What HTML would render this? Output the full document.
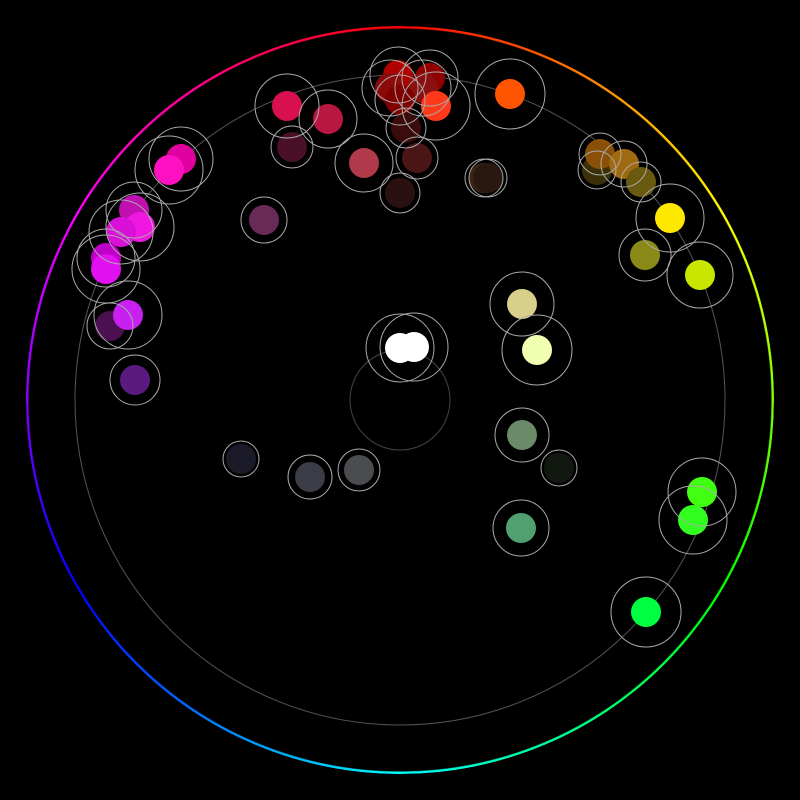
<!DOCTYPE html>
<html><head><style>
body{margin:0;background:#000;width:800px;height:800px;overflow:hidden;position:relative}
#ring{position:absolute;left:26px;top:26px;width:748px;height:748px;border-radius:50%;
background:conic-gradient(from 0deg,#f00,#ff0 60deg,#0f0 120deg,#0ff 180deg,#00f 240deg,#f0f 300deg,#f00 360deg);
-webkit-mask:radial-gradient(circle,transparent 371px,#000 372px,#000 374px,transparent 375px);
mask:radial-gradient(circle,transparent 371px,#000 372px,#000 374px,transparent 375px)}
svg{position:absolute;left:0;top:0}
</style></head><body>
<div id="ring"></div>
<svg width="800" height="800">
<circle cx="400" cy="400" r="325" fill="none" stroke="#555" stroke-width="1"/>
<circle cx="400" cy="400" r="50" fill="none" stroke="#444" stroke-width="1"/>
<g id="d"></g>
</svg>
<script>
var D=[[398,75,"#b00000",28],[390,88,"#8b0a0a",28],[430,78,"#900000",28],[423,88,"#8b1010",28],[400,100,"#800000",25],[436,106,"#ff3a1a",34],[406,128,"#3a0c0c",20],[417,158,"#4a1515",21],[400,193,"#2a1010",20],[364,163,"#b03a4a",29],
[287,106,"#d81050",32],[328,119,"#b81840",29],[292,147,"#4a1028",21],[510,94,"#ff5500",35],[484,178,"#3a2418",19],[488,178,"#2a1810",19],
[597,170,"#3a3008",19],[600,154,"#8a5008",21],[624,164,"#a06a10",23],[641,182,"#6a5a10",20],[670,218,"#ffe800",34],[645,255,"#8a8a18",26],[700,275,"#c8e600",33],
[181,159,"#e000a0",32],[169,170,"#ff10c0",34],[134,210,"#c010b0",28],[140,227,"#f018e0",34],[121,232,"#d810d8",32],[106,258,"#c000c8",29],[106,269,"#e010f0",34],[110,326,"#4a1050",23],[128,315,"#c820f0",34],[135,380,"#5a1a80",25],
[264,220,"#6a2a58",23],[400,348,"#ffffff",34],[414,347,"#ffffff",34],[522,304,"#d8d08a",32],[537,350,"#f0ffb0",35],[522,435,"#6a8a68",27],[559,468,"#101810",18],[521,528,"#50a070",28],
[241,459,"#1a1a28",18],[310,477,"#3a3c48",22],[359,470,"#4a4c50",21],[702,492,"#40ff10",34],[693,520,"#30ff20",34],[646,612,"#00ff40",35]];
var s="";D.forEach(function(a){s+='<circle cx="'+a[0]+'" cy="'+a[1]+'" r="15" fill="'+a[2]+'"/>';});
D.forEach(function(a){s+='<circle cx="'+a[0]+'" cy="'+a[1]+'" r="'+a[3]+'" fill="none" stroke="#aaa" stroke-width="1"/>';});
document.getElementById("d").innerHTML=s;
</script>
</body></html>
